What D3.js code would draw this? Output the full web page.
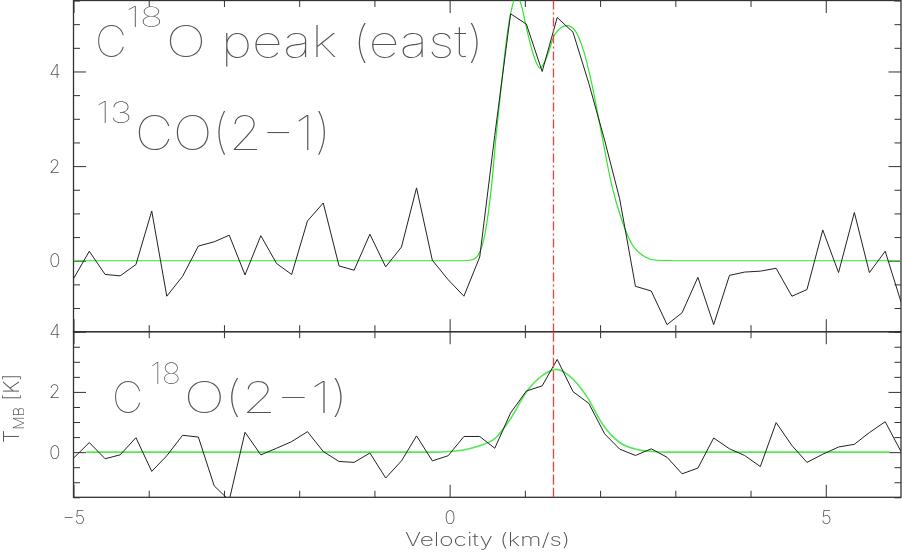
<!DOCTYPE html>
<html>
<head>
<meta charset="utf-8">
<script src="https://cdn.jsdelivr.net/npm/d3@7"></script>
<style>
  html, body { margin: 0; padding: 0; background: #fff; }
  svg { display: block; }
  text { font-family: "Inter", "DejaVu Sans", sans-serif; font-weight: 200; fill: #555; filter: url(#gray); }
  text.big { font-weight: 100; }
</style>
</head>
<body>
<svg id="chart" width="902" height="556"></svg>
<script>
// ---------------- data ----------------
const velocity = [-5.00,-4.79,-4.58,-4.38,-4.17,-3.96,-3.76,-3.55,-3.34,-3.13,
  -2.93,-2.72,-2.51,-2.30,-2.10,-1.89,-1.68,-1.47,-1.27,-1.06,
  -0.85,-0.64,-0.44,-0.23,-0.02,0.19,0.40,0.60,0.81,1.02,
  1.23,1.43,1.64,1.85,2.06,2.26,2.47,2.68,2.89,3.09,
  3.30,3.51,3.72,3.92,4.13,4.34,4.55,4.75,4.96,5.17,
  5.38,5.58,5.79,6.00];
const co13 = [-0.38,0.20,-0.29,-0.32,-0.08,1.05,-0.75,-0.33,0.31,0.40,
  0.54,-0.30,0.53,-0.06,-0.29,0.84,1.22,-0.11,-0.20,0.56,
  -0.13,0.29,1.54,0.01,-0.40,-0.75,0.08,2.65,5.22,5.00,
  4.00,5.14,4.83,3.75,2.55,1.31,-0.54,-0.64,-1.35,-1.10,
  -0.35,-1.35,-0.31,-0.24,-0.22,-0.16,-0.75,-0.61,0.65,-0.25,
  1.02,-0.25,0.20,-0.87];
const c18o = [-0.20,0.32,-0.22,-0.09,0.48,-0.64,-0.12,0.56,0.50,-1.12,
  -1.60,0.66,-0.09,0.13,0.35,0.68,0.02,-0.31,-0.34,-0.03,
  -0.86,-0.29,0.54,-0.29,-0.12,0.52,0.52,0.13,1.30,2.03,
  2.20,3.08,2.01,1.62,0.61,0.10,-0.11,0.11,-0.17,-0.72,
  -0.53,0.47,0.11,-0.11,-0.48,0.98,0.22,-0.34,-0.07,0.17,
  0.26,0.65,1.01,0.02];
// fitted profiles
const fit13V = [-5.0,0.20,0.30,0.39,0.47,0.56,0.62,0.69,0.76,0.82,0.89,0.96,1.02,1.11,1.20,1.29,1.40,1.56,1.67,1.78,1.89,2.02,2.15,2.29,2.42,2.60,2.75,3.0,6.0];
const fit13T = [0,0,0.02,0.15,0.57,1.63,2.68,3.74,4.72,5.29,5.62,5.36,4.93,4.37,4.07,4.30,4.79,4.97,4.86,4.44,3.74,2.68,1.63,0.85,0.36,0.08,0.01,0,0];
const fit18V = [-4.83,-0.2,0.0,0.2,0.4,0.61,0.82,1.02,1.24,1.42,1.60,1.82,2.04,2.26,2.49,2.70,2.90,5.85];
const fit18T = [0,0,0.02,0.08,0.21,0.47,1.15,2.0,2.56,2.75,2.52,1.86,0.90,0.32,0.09,0.02,0,0];
const vlsr = 1.38;
const xLabelTicks = [-5, 0, 5];
const xMinorTicks = [-4, -3, -2, -1, 1, 2, 3, 4];
const yTop = { domain: [-1.5, 5.5], labels: [0, 2, 4] };
const yBot = { domain: [-1.5, 4], labels: [0, 2, 4] };

// ---------------- layout ----------------
const svg = d3.select("#chart");
const L = 73.5, R = 901;
const topP = { t: 0.5, b: 331.7 };
const botP = { t: 331.7, b: 497.3 };

const x = d3.scaleLinear().domain([-5, 6]).range([L, R]);
const yT = d3.scaleLinear().domain(yTop.domain).range([topP.b, topP.t]);
const yB = d3.scaleLinear().domain(yBot.domain).range([botP.b, botP.t]);

const defs = svg.append("defs");
defs.append("filter").attr("id", "gray").attr("x", "-5%").attr("y", "-20%").attr("width", "110%").attr("height", "140%")
  .append("feColorMatrix").attr("type", "saturate").attr("values", 0);
defs.append("clipPath").attr("id", "clipT").append("rect")
  .attr("x", L).attr("y", topP.t).attr("width", R - L).attr("height", topP.b - topP.t);
defs.append("clipPath").attr("id", "clipB").append("rect")
  .attr("x", L).attr("y", botP.t).attr("width", R - L).attr("height", botP.b - botP.t);

function minorY(dom) {
  const out = [];
  for (let v = dom[0]; v <= dom[1] + 1e-9; v += 0.5) out.push(+v.toFixed(2));
  return out;
}

function styleAxis(g) {
  g.select(".domain").remove();
  g.selectAll(".tick line").attr("stroke", "#333").attr("stroke-width", 1);
  g.selectAll(".tick text").style("font-size", "18.5px").style("fill", "#555");
}

function panel(y, p, cfg) {
  const minor = minorY(cfg.domain).filter(v => cfg.labels.indexOf(v) < 0);
  svg.append("g").attr("transform", `translate(${L},0)`)
    .call(d3.axisLeft(y).tickValues(minor).tickSize(-6.5).tickFormat("")).call(styleAxis);
  svg.append("g").attr("transform", `translate(${L},0)`)
    .call(d3.axisLeft(y).tickValues(cfg.labels).tickSize(-12.5).tickPadding(13).tickFormat(d3.format("d"))).call(styleAxis);
  svg.append("g").attr("transform", `translate(${R},0)`)
    .call(d3.axisRight(y).tickValues(minor).tickSize(-6.5).tickFormat("")).call(styleAxis);
  svg.append("g").attr("transform", `translate(${R},0)`)
    .call(d3.axisRight(y).tickValues(cfg.labels).tickSize(-12.5).tickFormat("")).call(styleAxis);
  [[p.t, d3.axisTop], [p.b, d3.axisBottom]].forEach(([yy, ax]) => {
    svg.append("g").attr("transform", `translate(0,${yy})`)
      .call(ax(x).tickValues(xMinorTicks).tickSize(-6.5).tickFormat("")).call(styleAxis);
    svg.append("g").attr("transform", `translate(0,${yy})`)
      .call(ax(x).tickValues(xLabelTicks).tickSize(-12.5).tickFormat("")).call(styleAxis);
  });
  svg.append("rect").attr("x", L).attr("y", p.t).attr("width", R - L).attr("height", p.b - p.t)
    .attr("fill", "none").attr("stroke", "#333").attr("stroke-width", 1.3);
}

panel(yT, topP, yTop);
panel(yB, botP, yBot);

// x tick labels
svg.append("g").attr("transform", `translate(0,${botP.b})`)
  .call(d3.axisBottom(x).tickValues(xLabelTicks).tickSize(0).tickPadding(13.5).tickFormat(d3.format("d")))
  .call(styleAxis);

// lines
const gT = svg.append("g").attr("clip-path", "url(#clipT)");
const gB = svg.append("g").attr("clip-path", "url(#clipB)");

const lineT = d3.line().x(d => x(d[0])).y(d => yT(d[1]));
const lineB = d3.line().x(d => x(d[0])).y(d => yB(d[1]));
const fitLineT = d3.line().curve(d3.curveMonotoneX).x(d => x(d[0])).y(d => yT(d[1]));
const fitLineB = d3.line().curve(d3.curveMonotoneX).x(d => x(d[0])).y(d => yB(d[1]));
const xv = Math.round(x(vlsr)) + 0.5;

gT.append("path").datum(fit13V.map((v, i) => [v, fit13T[i]]))
  .attr("d", fitLineT).attr("fill", "none").attr("stroke", "#2ee62e").attr("stroke-width", 1.2);
gT.append("path").datum(velocity.map((v, i) => [v, co13[i]]))
  .attr("d", lineT).attr("fill", "none").attr("stroke", "#222").attr("stroke-width", 1);
gT.append("line").attr("x1", xv).attr("x2", xv).attr("y1", topP.t).attr("y2", topP.b)
  .attr("stroke", "#ff3838").attr("stroke-width", 1.3).attr("stroke-dasharray", "9,3,2,3");

gB.append("path").datum(fit18V.map((v, i) => [v, fit18T[i]]))
  .attr("d", fitLineB).attr("fill", "none").attr("stroke", "#55e855").attr("stroke-width", 1.6);
gB.append("path").datum(velocity.map((v, i) => [v, c18o[i]]))
  .attr("d", lineB).attr("fill", "none").attr("stroke", "#222").attr("stroke-width", 1);
gB.append("line").attr("x1", xv).attr("x2", xv).attr("y1", botP.t).attr("y2", botP.b)
  .attr("stroke", "#ff3838").attr("stroke-width", 1.3).attr("stroke-dasharray", "10,3");

// labels
function txt(s, xx, yy, size, len, cls) {
  const t = svg.append("text").attr("x", xx).attr("y", yy).style("font-size", size + "px").text(s);
  if (cls) t.attr("class", cls);
  if (len) t.attr("textLength", len).attr("lengthAdjust", "spacingAndGlyphs");
  return t;
}
// title line 1
txt("C", 95, 57, 44, null, "big");
txt("18", 126, 27, 28, 37, "big");
txt("O peak (east)", 166, 57, 44, 318, "big");
// line 2
txt("13", 96, 123, 29, 36, "big");
txt("CO(2\u22121)", 135, 150, 48, 196, "big");
// bottom label
txt("C", 112, 412.7, 43, null, "big");
txt("18", 150, 384, 29, 31, "big");
txt("O(2\u22121)", 184, 412.7, 43, 164, "big");

// axis titles
txt("Velocity (km/s)", 405, 546, 18, 165);
const yl = svg.append("text").attr("transform", "translate(19,443) rotate(-90)").style("font-size", "21px");
yl.append("tspan").text("T");
yl.append("tspan").attr("dy", 4.5).style("font-size", "15px").text("MB");
yl.append("tspan").attr("dy", -4.5).text(" [K]");
</script>
</body>
</html>
